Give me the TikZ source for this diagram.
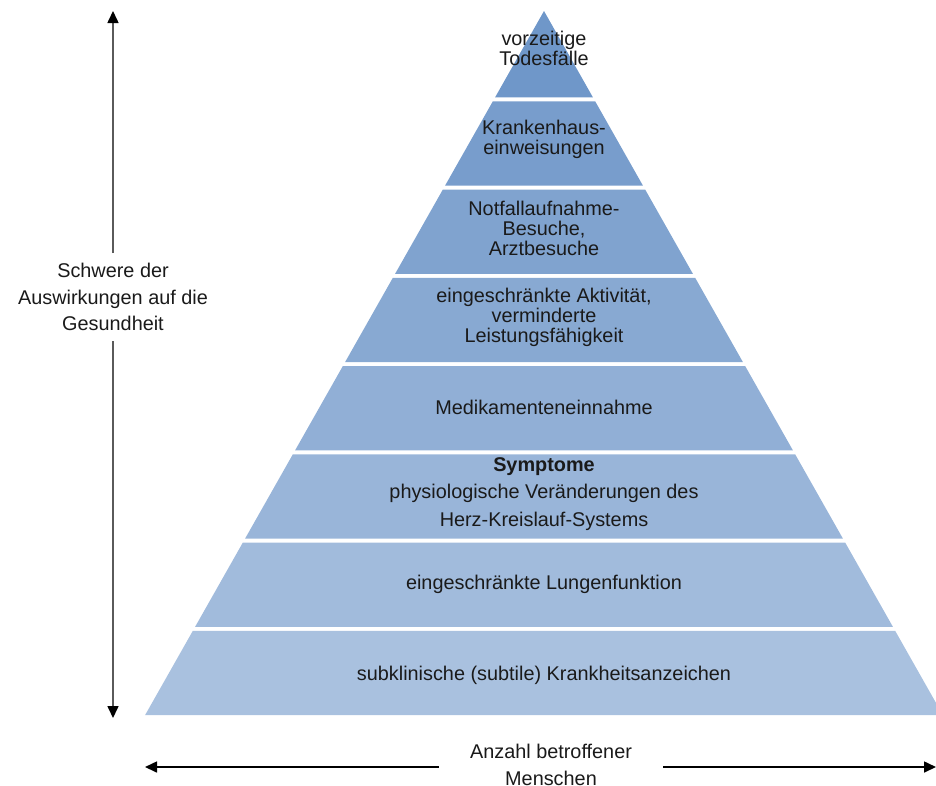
\documentclass[tikz,border=0pt]{standalone}
\usepackage{fontspec}
\setmainfont{Liberation Sans}
\usetikzlibrary{arrows.meta, positioning, calc}
\definecolor{bandtop}{HTML}{6F97C9}
\definecolor{bandbot}{HTML}{A9C1DF}
\definecolor{axisgray}{HTML}{5A5A5A}
\definecolor{textdark}{HTML}{1A1A1A}

\begin{document}
\begin{tikzpicture}[
    x=0.02cm, y=-0.02cm,
    band/.style={font=\fontsize{11.3}{11.4}\selectfont, align=center, text=textdark},
    axislabel/.style={font=\fontsize{11.3}{15}\selectfont, align=center, text=textdark, inner sep=2pt},
    axisarrow/.style={-{Triangle[length=0.24cm, width=0.22cm, color=black]}, line width=0.9pt}
  ]
    \useasboundingbox (0,0) rectangle (936,785);

    % pyramid layers, top to bottom
    \begin{scope}
      \clip (0,0) rectangle (936,785);
      \foreach \i in {0,...,7} {
        \pgfmathsetmacro{\yt}{11+88.25*\i+2*(\i>0)}
        \pgfmathsetmacro{\yb}{11+88.25*(\i+1)-2}
        \pgfmathsetmacro{\wt}{(\yt-11)/706*400}
        \pgfmathsetmacro{\wb}{(\yb-11)/706*400}
        \pgfmathtruncatemacro{\p}{100-\i*100/7}
        \fill[bandtop!\p!bandbot] (544-\wt,\yt) -- (544+\wt,\yt) -- (544+\wb,\yb) -- (544-\wb,\yb) -- cycle;
      }
    \end{scope}

    \node[band] (death) at (544,48) {vorzeitige\\Todesfälle};
    \node[band] (hosp) at (544,139) {Krankenhaus-\\einweisungen};
    \node[band] (emerg) at (544,228) {Notfallaufnahme-\\Besuche,\\Arztbesuche};
    \node[band] (activ) at (544,317) {eingeschränkte Aktivität,\\verminderte\\Leistungsfähigkeit};
    \node[band] (medic) at (544,407) {Medikamenteneinnahme};
    \node[band, font=\fontsize{11.3}{15.6}\selectfont] (sympt) at (544,494)
      {\textbf{Symptome}\\physiologische Veränderungen des\\Herz-Kreislauf-Systems};
    \node[band] (lung) at (544,584) {eingeschränkte Lungenfunktion};
    \node[band] (subcl) at (544,675) {subklinische (subtile) Krankheitsanzeichen};

    % severity axis
    \node[axislabel, inner ysep=0.2cm] (severity) at (113,297)
      {Schwere der\\Auswirkungen auf die\\Gesundheit};
    \coordinate (sevtop) at (113,11);
    \coordinate (sevbot) at (113,718);
    \draw[axisarrow, axisgray] (severity.north) -- (sevtop);
    \draw[axisarrow, axisgray] (severity.south) -- (sevbot);

    % number of people axis
    \node[axislabel, inner xsep=0.62cm] (people) at (551,765) {Anzahl betroffener\\Menschen};
    \coordinate (pplleft) at (145,767);
    \coordinate (pplright) at (936,767);
    \draw[axisarrow, black] (people.west |- pplleft) -- (pplleft);
    \draw[axisarrow, black] (people.east |- pplright) -- (pplright);
\end{tikzpicture}
\end{document}
